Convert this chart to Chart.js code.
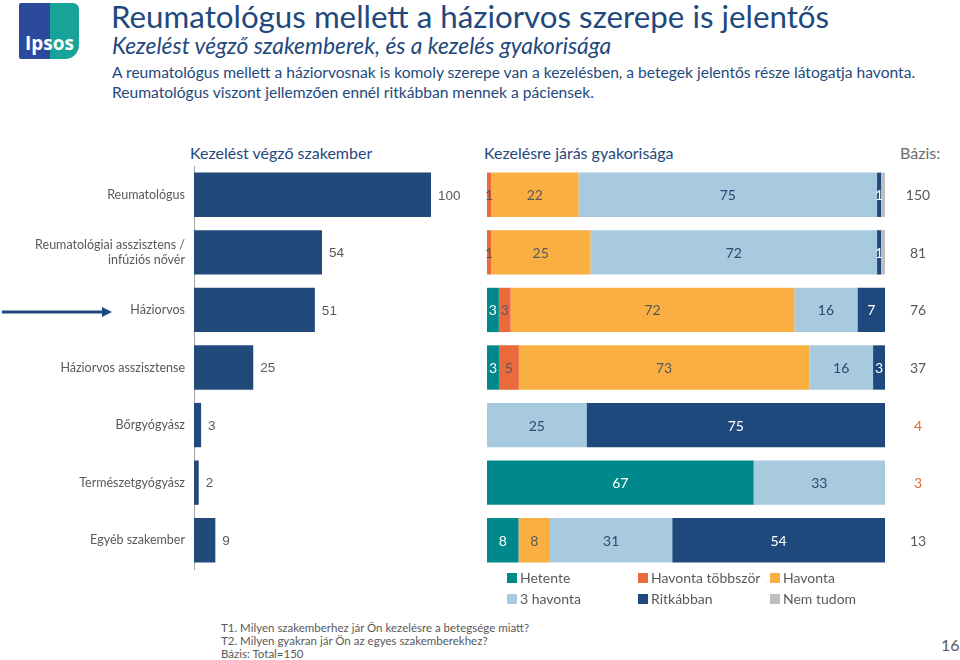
<!DOCTYPE html>
<html lang="hu">
<head>
<meta charset="utf-8">
<title>Reumatológus mellett a háziorvos szerepe is jelentős</title>
<script src="https://cdn.jsdelivr.net/npm/chart.js@4.4.1/dist/chart.umd.min.js"></script>
<style>
  html, body { margin: 0; padding: 0; background: #fff; }
  body { width: 960px; height: 660px; position: relative; overflow: hidden; font-family: Lato, "Open Sans", sans-serif; }
  .abs { position: absolute; white-space: nowrap; }
  #title { left: 111px; top: -3px; font-size: 31.3px; color: #1F497D; }
  #subtitle { left: 112px; top: 31px; font-size: 22.8px; font-style: italic; color: #1F497D; }
  #body { left: 112px; top: 62px; font-size: 15.6px; line-height: 20px; color: #1F497D; }
  .head { top: 143px; font-size: 16px; color: #1F497D; }
  #legend { left: 507px; top: 569px; font-size: 14px; color: #595959; }
  .lg { position: absolute; white-space: nowrap; }
  .lg i { display: inline-block; width: 10px; height: 10px; margin-right: 3px; vertical-align: 0px; }
  #notes { left: 221px; top: 621px; font-size: 11.5px; line-height: 13px; color: #595959; }
  #page { left: 941px; top: 635px; font-size: 16px; color: #595959; }
  #logo { left: 19px; top: 3px; width: 60px; height: 56px; background: linear-gradient(90deg, #2B4A9B 0 52%, #17A398 52% 100%); border-radius: 2px 6px 14px 2px; }
  #logo span { position: absolute; left: 6px; bottom: 3px; font: bold 19px "Open Sans", sans-serif; color: #fff; }
  canvas { position: absolute; }
</style>
</head>
<body>
<div id="logo" class="abs"><span>Ipsos</span></div>
<div id="title" class="abs">Reumatológus mellett a háziorvos szerepe is jelentős</div>
<div id="subtitle" class="abs">Kezelést végző szakemberek, és a kezelés gyakorisága</div>
<div id="body" class="abs">A reumatológus mellett a háziorvosnak is komoly szerepe van a kezelésben, a betegek jelentős része látogatja havonta.<br>Reumatológus viszont jellemzően ennél ritkábban mennek a páciensek.</div>
<div class="abs head" style="left:190px">Kezelést végző szakember</div>
<div class="abs head" style="left:484px">Kezelésre járás gyakorisága</div>
<div class="abs head" style="left:900px;color:#6b6b6b">Bázis:</div>

<svg class="abs" style="left:0;top:302px" width="120" height="20">
  <line x1="2" y1="10" x2="104" y2="10" stroke="#1F497D" stroke-width="3"/>
  <polygon points="102,5 112,10 102,15" fill="#1F497D"/>
</svg>

<div style="position:absolute;left:0;top:140px;width:475px;height:440px"><canvas id="leftChart"></canvas></div>
<div style="position:absolute;left:470px;top:140px;width:490px;height:440px"><canvas id="rightChart"></canvas></div>

<div id="legend" class="abs"></div>
<div id="notes" class="abs">T1. Milyen szakemberhez jár Ön kezelésre a betegsége miatt?<br>T2. Milyen gyakran jár Ön az egyes szakemberekhez?<br>Bázis: Total=150</div>
<div id="page" class="abs">16</div>

<script>
// adatok
const categories = [
  "Reumatológus",
  ["Reumatológiai asszisztens /", "infúziós nővér"],
  "Háziorvos",
  "Háziorvos asszisztense",
  "Bőrgyógyász",
  "Természetgyógyász",
  "Egyéb szakember"
];
const specialistShare = [100, 54, 51, 25, 3, 2, 9];

const freqLabels = ["Hetente", "Havonta többször", "Havonta", "3 havonta", "Ritkábban", "Nem tudom"];
const hetente = [0, 0, 3, 3, 0, 67, 8];
const havontaTobbszor = [1, 1, 3, 5, 0, 0, 0];
const havonta = [22, 25, 72, 73, 0, 0, 8];
const haromHavonta = [75, 72, 16, 16, 25, 33, 31];
const ritkabban = [1, 1, 7, 3, 75, 0, 54];
const nemTudom = [1, 1, 0, 0, 0, 0, 0];
const bazis = [150, 81, 76, 37, 4, 3, 13];

const freqColors = ["#00898B", "#EB6A3C", "#F9AF42", "#A8CADF", "#1F497D", "#BFBFBF"];
const freqTextColors = ["#FFFFFF", "#595959", "#595959", "#2A4A72", "#FFFFFF", null];
const bazisColors = ["#595959", "#595959", "#595959", "#595959", "#E8673A", "#E8673A", "#595959"];

const labelFont = '14px Lato, sans-serif';

// bal oldali diagram
const leftLabels = {
  id: "leftLabels",
  afterDatasetsDraw(chart) {
    const ctx = chart.ctx;
    ctx.save();
    ctx.font = '13.5px "Liberation Sans", Arial, sans-serif';
    ctx.fillStyle = "#595959";
    ctx.textBaseline = "middle";
    ctx.textAlign = "left";
    chart.getDatasetMeta(0).data.forEach((bar, i) => {
      ctx.fillText(specialistShare[i], bar.x + 7, bar.y + 1);
    });
    ctx.restore();
  }
};

new Chart(document.getElementById("leftChart"), {
  type: "bar",
  data: {
    labels: categories,
    datasets: [{
      data: specialistShare,
      backgroundColor: "#214A7B",
      categoryPercentage: 0.77,
      barPercentage: 1
    }]
  },
  options: {
    indexAxis: "y",
    responsive: true,
    maintainAspectRatio: false,
    animation: false,
    layout: { padding: { top: 26, bottom: 11, right: 44, left: 0 } },
    plugins: { legend: { display: false }, tooltip: { enabled: false } },
    scales: {
      x: { display: false, min: 0, max: 100 },
      y: {
        afterFit: (scale) => { scale.width = 194; },
        grid: { display: false },
        border: { display: true, color: "#A6A6A6", width: 1 },
        ticks: { color: "#595959", font: { family: "Lato", size: 12.5 }, padding: 1 }
      }
    }
  },
  plugins: [leftLabels]
});

// jobb oldali diagram (100%-os halmozott)
const freqSeries = [hetente, havontaTobbszor, havonta, haromHavonta, ritkabban, nemTudom];
const rowTotals = categories.map((c, j) => freqSeries.reduce((s, arr) => s + arr[j], 0));

const rightLabels = {
  id: "rightLabels",
  afterDatasetsDraw(chart) {
    const ctx = chart.ctx;
    ctx.save();
    ctx.font = labelFont;
    ctx.textBaseline = "middle";
    ctx.textAlign = "center";
    freqSeries.forEach((arr, i) => {
      if (!freqTextColors[i]) return;
      ctx.fillStyle = freqTextColors[i];
      chart.getDatasetMeta(i).data.forEach((bar, j) => {
        if (arr[j] > 0) ctx.fillText(arr[j], (bar.x + bar.base) / 2, bar.y + 1);
      });
    });
    chart.getDatasetMeta(0).data.forEach((bar, j) => {
      ctx.fillStyle = bazisColors[j];
      ctx.fillText(bazis[j], chart.chartArea.right + 33, bar.y + 1);
    });
    ctx.restore();
  }
};

new Chart(document.getElementById("rightChart"), {
  type: "bar",
  data: {
    labels: categories,
    datasets: freqSeries.map((arr, i) => ({
      label: freqLabels[i],
      data: arr.map((v, j) => v / rowTotals[j] * 100),
      backgroundColor: freqColors[i],
      categoryPercentage: 0.77,
      barPercentage: 1
    }))
  },
  options: {
    indexAxis: "y",
    responsive: true,
    maintainAspectRatio: false,
    animation: false,
    layout: { padding: { top: 26, bottom: 11, left: 17, right: 75 } },
    plugins: { legend: { display: false }, tooltip: { enabled: false } },
    scales: {
      x: { display: false, stacked: true, min: 0, max: 100 },
      y: { display: false, stacked: true }
    }
  },
  plugins: [rightLabels]
});

// jelmagyarázat
const legendPos = [[0, 0], [131, 0], [263, 0], [0, 21], [131, 21], [263, 21]];
const legendEl = document.getElementById("legend");
freqLabels.forEach((name, i) => {
  const d = document.createElement("div");
  d.className = "lg";
  d.style.left = legendPos[i][0] + "px";
  d.style.top = legendPos[i][1] + "px";
  d.innerHTML = '<i style="background:' + freqColors[i] + '"></i>' + name;
  legendEl.appendChild(d);
});
</script>
</body>
</html>
